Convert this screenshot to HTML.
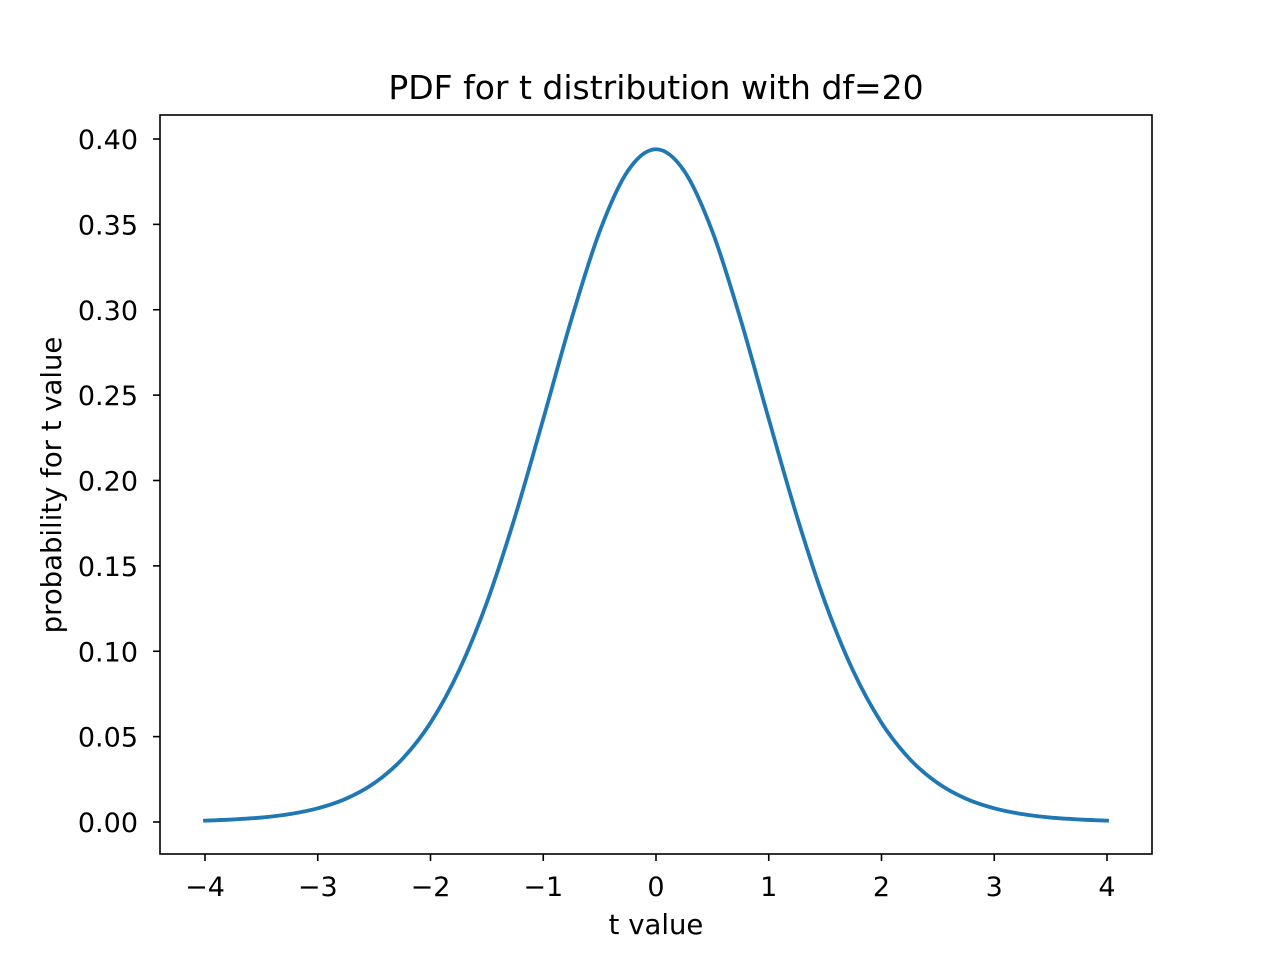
<!DOCTYPE html>
<html><head><meta charset="utf-8"><style>
html,body{margin:0;padding:0;background:#fff;}
svg{display:block;font-family:"DejaVu Sans","Liberation Sans",sans-serif;}
</style></head><body>
<svg id="chart" width="1280" height="960" viewBox="0 0 1280 960" xmlns="http://www.w3.org/2000/svg">
<rect width="1280" height="960" fill="#fff"/>
<text x="656" y="99" font-size="33" text-anchor="middle">PDF for t distribution with df=20</text>
<text x="656" y="934" font-size="27.5" text-anchor="middle">t value</text>
<text transform="translate(61,485) rotate(-90)" font-size="27.5" text-anchor="middle">probability for t value</text>
<g id="ticks"></g>
<path id="curve" fill="none" stroke="#1f77b4" stroke-width="3.8" stroke-linejoin="round" stroke-linecap="square"/>
<rect x="160" y="115" width="992" height="739" fill="none" stroke="#000" stroke-width="1.6"/>
</svg>
<script>
const xValues=[-4,-3.75,-3.5,-3.25,-3,-2.75,-2.5,-2.25,-2,-1.75,-1.5,-1.25,-1,-0.75,-0.5,-0.25,0,0.25,0.5,0.75,1,1.25,1.5,1.75,2,2.25,2.5,2.75,3,3.25,3.5,3.75,4];
const yValues=[0.0008,0.0015,0.0026,0.0046,0.0080,0.0136,0.0227,0.0369,0.0581,0.0883,0.1286,0.1789,0.2360,0.2944,0.3458,0.3813,0.3940,0.3813,0.3458,0.2944,0.2360,0.1789,0.1286,0.0883,0.0581,0.0369,0.0227,0.0136,0.0080,0.0046,0.0026,0.0015,0.0008];
const xTicks=[-4,-3,-2,-1,0,1,2,3,4];
const xTickLabels=["\u22124","\u22123","\u22122","\u22121","0","1","2","3","4"];
const yTicks=[0,0.05,0.10,0.15,0.20,0.25,0.30,0.35,0.40];
const yTickLabels=["0.00","0.05","0.10","0.15","0.20","0.25","0.30","0.35","0.40"];
const sx=v=>656+v*112.75;
const sy=v=>822-v*1707.5;
const NS="http://www.w3.org/2000/svg";
const g=document.getElementById('ticks');
xTicks.forEach((t,i)=>{
  const l=document.createElementNS(NS,'line');
  l.setAttribute('x1',sx(t));l.setAttribute('x2',sx(t));l.setAttribute('y1',854);l.setAttribute('y2',861);
  l.setAttribute('stroke','#000');l.setAttribute('stroke-width','1.6');
  
  
  g.appendChild(l);
  const tx=document.createElementNS(NS,'text');
  tx.setAttribute('x',sx(t));tx.setAttribute('y',896);tx.setAttribute('font-size','27');tx.setAttribute('text-anchor','middle');
  tx.textContent=xTickLabels[i];
  
  
  g.appendChild(tx);
});
yTicks.forEach((t,i)=>{
  const l=document.createElementNS(NS,'line');
  l.setAttribute('x1',153);l.setAttribute('x2',160);l.setAttribute('y1',sy(t));l.setAttribute('y2',sy(t));
  l.setAttribute('stroke','#000');l.setAttribute('stroke-width','1.6');
  
  
  g.appendChild(l);
  const tx=document.createElementNS(NS,'text');
  tx.setAttribute('x',138);tx.setAttribute('y',sy(t)+10);tx.setAttribute('font-size','27');tx.setAttribute('text-anchor','end');
  tx.textContent=yTickLabels[i];
  
  
  g.appendChild(tx);
});
const P=xValues.map((x,i)=>[sx(x),sy(yValues[i])]);
let d='M'+P[0][0]+','+P[0][1];
for(let i=0;i<P.length-1;i++){
  const p0=P[Math.max(0,i-1)],p1=P[i],p2=P[i+1],p3=P[Math.min(P.length-1,i+2)];
  const c1=[p1[0]+(p2[0]-p0[0])/6,p1[1]+(p2[1]-p0[1])/6];
  const c2=[p2[0]-(p3[0]-p1[0])/6,p2[1]-(p3[1]-p1[1])/6];
  d+=' C'+c1[0]+','+c1[1]+' '+c2[0]+','+c2[1]+' '+p2[0]+','+p2[1];
}
document.getElementById('curve').setAttribute('d',d);
</script>
</body></html>
